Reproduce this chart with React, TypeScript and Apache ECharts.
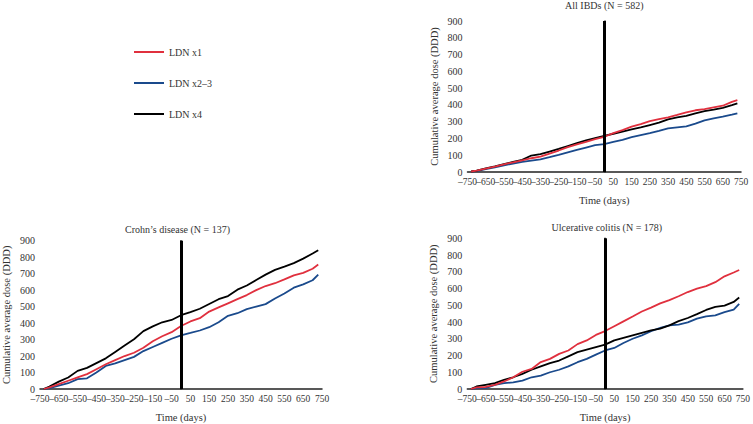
import React, { useEffect, useRef } from "react";
import * as echarts from "echarts";

const days = [-730, -700, -650, -600, -550, -500, -450, -400, -350, -300, -250, -200, -150, -100, -50, 0, 50, 100, 150, 200, 250, 300, 350, 400, 450, 500, 550, 600, 650, 700, 730];

// All IBDs (N = 582)
const ibdX1 = [3, 8, 20, 32, 46, 58, 70, 82, 92, 110, 128, 148, 165, 180, 196, 210, 232, 250, 270, 285, 303, 315, 326, 340, 355, 368, 375, 385, 395, 418, 428];
const ibdX23 = [2, 6, 17, 28, 40, 50, 60, 68, 75, 88, 102, 117, 132, 146, 160, 166, 180, 192, 208, 220, 232, 245, 260, 266, 272, 288, 308, 320, 330, 342, 350];
const ibdX4 = [3, 8, 21, 33, 47, 60, 72, 98, 106, 122, 138, 155, 172, 188, 202, 216, 228, 240, 254, 266, 280, 294, 314, 326, 334, 350, 363, 372, 382, 398, 409];

// Crohn's disease (N = 137)
const cdX1 = [0, 10, 30, 50, 70, 90, 120, 150, 175, 200, 220, 250, 290, 320, 345, 382, 410, 430, 470, 495, 520, 545, 570, 600, 625, 642, 665, 690, 705, 730, 755];
const cdX23 = [0, 5, 20, 35, 60, 65, 100, 140, 155, 175, 195, 230, 255, 280, 305, 326, 340, 355, 375, 405, 444, 460, 485, 500, 515, 549, 580, 615, 635, 660, 694];
const cdX4 = [0, 15, 45, 70, 110, 128, 157, 186, 225, 264, 302, 351, 380, 405, 419, 448, 467, 487, 516, 545, 564, 603, 628, 661, 694, 723, 743, 764, 791, 822, 842];

// Ulcerative colitis (N = 178)
const ucX1 = [0, 10, 12, 25, 45, 70, 103, 120, 161, 180, 210, 230, 268, 290, 323, 346, 375, 404, 433, 463, 486, 511, 531, 554, 579, 599, 614, 638, 673, 696, 711];
const ucX23 = [0, 5, 5, 25, 35, 40, 50, 70, 80, 100, 115, 135, 160, 180, 205, 230, 245, 275, 300, 320, 345, 365, 380, 385, 398, 420, 434, 440, 459, 474, 509];
const ucX4 = [0, 15, 25, 35, 55, 70, 90, 115, 135, 155, 170, 195, 220, 235, 250, 265, 290, 305, 320, 335, 350, 360, 380, 405, 424, 447, 472, 490, 498, 520, 546];

const seriesNames = ["LDN x1", "LDN x2\u20133", "LDN x4"];
const colors = ["#e0303e", "#1a4a8c", "#000000"];
const panelTitles = ["All IBDs (N = 582)", "Crohn\u2019s disease (N = 137)", "Ulcerative colitis (N = 178)"];
const xTickValues = [-750, -650, -550, -450, -350, -250, -150, -50, 50, 150, 250, 350, 450, 550, 650, 750];

const FONT = "Liberation Serif";
const TXT = "#333";

const panels = [
  { data: [ibdX1, ibdX23, ibdX4], grid: { left: 467.5, top: 21, width: 273.5, height: 151 }, titleTop: 0 },
  { data: [cdX1, cdX23, cdX4], grid: { left: 33, top: 240.7, width: 289, height: 154.6 }, titleTop: 224 },
  { data: [ucX1, ucX23, ucX4], grid: { left: 467.3, top: 238.3, width: 279, height: 154.4 }, titleTop: 222 },
];

export default function App() {
  const ref = useRef<HTMLDivElement>(null);
  useEffect(() => {
    if (!ref.current) return;
    const chart = echarts.init(ref.current, undefined, { renderer: "svg" });
    const grids: any[] = [];
    const xAxes: any[] = [];
    const yAxes: any[] = [];
    const titles: any[] = [];
    const series: any[] = [];
    panels.forEach((p, gi) => {
      grids.push({ ...p.grid, containLabel: false });
      titles.push({
        text: panelTitles[gi],
        left: p.grid.left + p.grid.width / 2,
        top: p.titleTop,
        textAlign: "center",
        padding: 0,
        textStyle: { fontFamily: FONT, fontSize: 10, fontWeight: "normal", color: TXT },
      });
      xAxes.push({
        type: "value",
        gridIndex: gi,
        min: -750,
        max: 750,
        interval: 50,
        name: "Time (days)",
        nameLocation: "middle",
        nameGap: 23,
        nameTextStyle: { fontFamily: FONT, fontSize: 10.5, fontWeight: "normal", color: TXT },
        axisLine: { show: true, onZero: false, lineStyle: { color: "#222", width: 1.5 } },
        axisTick: { show: false },
        splitLine: { show: false },
        axisLabel: {
          fontFamily: FONT,
          fontSize: 9.5,
          color: TXT,
          margin: 5,
          formatter: (v: number) => (xTickValues.includes(v) ? (v < 0 ? "\u2013" + Math.abs(v) : String(v)) : ""),
        },
      });
      yAxes.push({
        type: "value",
        gridIndex: gi,
        min: 0,
        max: 900,
        interval: 100,
        name: "Cumulative average dose (DDD)",
        nameLocation: "middle",
        nameRotate: 90,
        nameGap: 28,
        nameTextStyle: { fontFamily: FONT, fontSize: 10.5, fontWeight: "normal", color: TXT },
        axisLine: { show: true, lineStyle: { color: "#222", width: 1.5 } },
        axisTick: { show: false },
        splitLine: { show: false },
        axisLabel: { fontFamily: FONT, fontSize: 10, color: TXT, margin: 5 },
      });
      const order = [1, 2, 0];
      order.forEach((si, k) => {
        const s: any = {
          type: "line",
          name: seriesNames[si],
          xAxisIndex: gi,
          yAxisIndex: gi,
          showSymbol: false,
          symbol: "none",
          color: colors[si],
          lineStyle: { color: colors[si], width: 1.8 },
          data: days.map((d, i) => [d, p.data[si][i]]),
        };
        if (k === 0) {
          s.markLine = {
            silent: true,
            symbol: ["none", "none"],
            label: { show: false },
            lineStyle: { color: "#000", width: 3, type: "solid" },
            data: [{ xAxis: 0 }],
          };
        }
        series.push(s);
      });
    });
    chart.setOption({
      animation: false,
      backgroundColor: "#fff",
      title: titles,
      legend: {
        data: seriesNames,
        orient: "vertical",
        left: 129,
        top: 42,
        icon: "rect",
        itemWidth: 30,
        itemHeight: 2,
        itemGap: 21,
        selectedMode: false,
        textStyle: { fontFamily: FONT, fontSize: 10, color: TXT },
      },
      grid: grids,
      xAxis: xAxes,
      yAxis: yAxes,
      series,
    });
    return () => chart.dispose();
  }, []);
  return <div ref={ref} style={{ position: "fixed", left: 0, top: 0, width: 753, height: 424 }} />;
}
